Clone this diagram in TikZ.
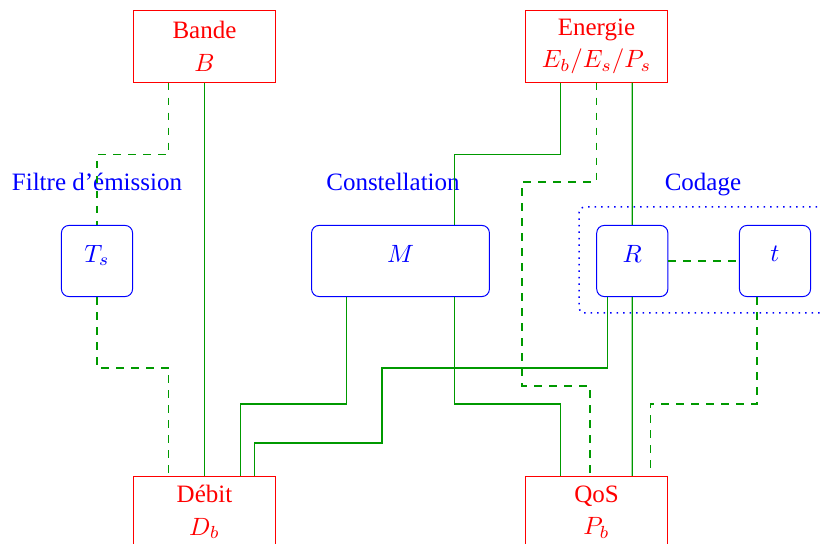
\documentclass[tikz,border=0pt]{standalone}
\usepackage{fontspec}
\setmainfont{Liberation Serif}
\usetikzlibrary{calc}
\definecolor{linkgreen}{rgb}{0,0.6,0}
\newcommand{\paramsym}[1]{\raisebox{6pt}{$#1$}}
\tikzset{
  quantity/.style={draw=red, text=red, minimum width=2cm, minimum height=1cm,
    align=center, inner sep=0pt},
  param/.style={draw=blue, text=blue, rounded corners=3pt, minimum height=1cm,
    inner sep=0pt},
  caption/.style={text=blue, inner sep=0pt, anchor=base},
  strong/.style={linkgreen, line width=0.5pt},
  weak/.style={linkgreen, dashed, line width=0.5pt},
}
\begin{document}
\begin{tikzpicture}[x=0.4pt, y=-0.4pt]
\useasboundingbox (0,0) rectangle (820,544);

% quantities
\node[quantity] (bande) at (204.5,46.5) {Bande\\[1pt]$B$};
\node[quantity] (energie) at (596.5,46.5) {Energie\\[1pt]$E_b/E_s/P_s$};
\node[quantity] (debit) at (204.5,512) {Débit\\[1pt]$D_b$};
\node[quantity] (qos) at (596.5,512) {QoS\\[1pt]$P_b$};

% parameters
\node[param, minimum width=1cm] (ts) at (97,261) {\paramsym{T_s}};
\node[param, minimum width=2.5cm] (m) at (400.5,261) {\paramsym{M}};
\node[param, minimum width=1cm] (r) at (632.3,261) {\paramsym{R}};
\node[param, minimum width=1cm] (t) at (775,261) {\paramsym{t}};

% captions
\node[caption] (cfiltre) at (97,191) {Filtre d'émission};
\node[caption] (cconst) at (393,191) {Constellation};
\node[caption] (ccod) at (703,191) {Codage};

% coding group
\draw[blue, dotted, line width=0.6pt, rounded corners=2pt] (830,207) -- (579,207) -- (579,313) -- (830,313);

% anchor points on the boxes
\coordinate (b1) at ($(bande.south west)!0.25!(bande.south east)$);
\coordinate (e1) at ($(energie.south west)!0.25!(energie.south east)$);
\coordinate (e3) at ($(energie.south west)!0.75!(energie.south east)$);
\coordinate (d1) at ($(debit.north west)!0.25!(debit.north east)$);
\coordinate (d3) at ($(debit.north west)!0.75!(debit.north east)$);
\coordinate (d4) at ($(debit.north west)!0.85!(debit.north east)$);
\coordinate (q1) at ($(qos.north west)!0.25!(qos.north east)$);
\coordinate (q2) at ($(qos.north west)!0.455!(qos.north east)$);
\coordinate (q3) at ($(qos.north west)!0.75!(qos.north east)$);
\coordinate (q4) at ($(qos.north west)!0.875!(qos.north east)+(0,-8)$);
\coordinate (m1) at ($(m.south west)!0.2!(m.south east)$);
\coordinate (m2) at ($(m.south west)!0.8!(m.south east)$);
\coordinate (m2t) at ($(m.north west)!0.8!(m.north east)$);
\coordinate (r1) at ($(r.south west)!0.155!(r.south east)$);
\coordinate (t1) at ($(t.south west)!0.25!(t.south east)$);

% bandwidth
\draw[weak] (b1) -- ++(0,72) -| (ts.north);
\draw[strong] (bande.south) -- (debit.north);
\draw[weak] (ts.south) -- ++(0,71) -| (d1);

% rate
\draw[strong] (m1) -- ++(0,107) -| (d3);
\draw[strong] (r1) |- (382,368) -- (382,443) -| (d4);

% energy
\draw[strong] (e1) -- ++(0,72) -| (m2t);
\draw[strong] (m2) -- ++(0,107) -| (q1);
\draw[weak] (energie.south) |- (522,182) -- (522,386) -| (q2);
\draw[strong] (e3) -- (r.north);
\draw[strong] (r.south) -- (q3);

% coding
\draw[weak] (r.east) -- (t.west);
\draw[weak] (t1) -- ++(0,107) -| (q4);
\end{tikzpicture}
\end{document}
